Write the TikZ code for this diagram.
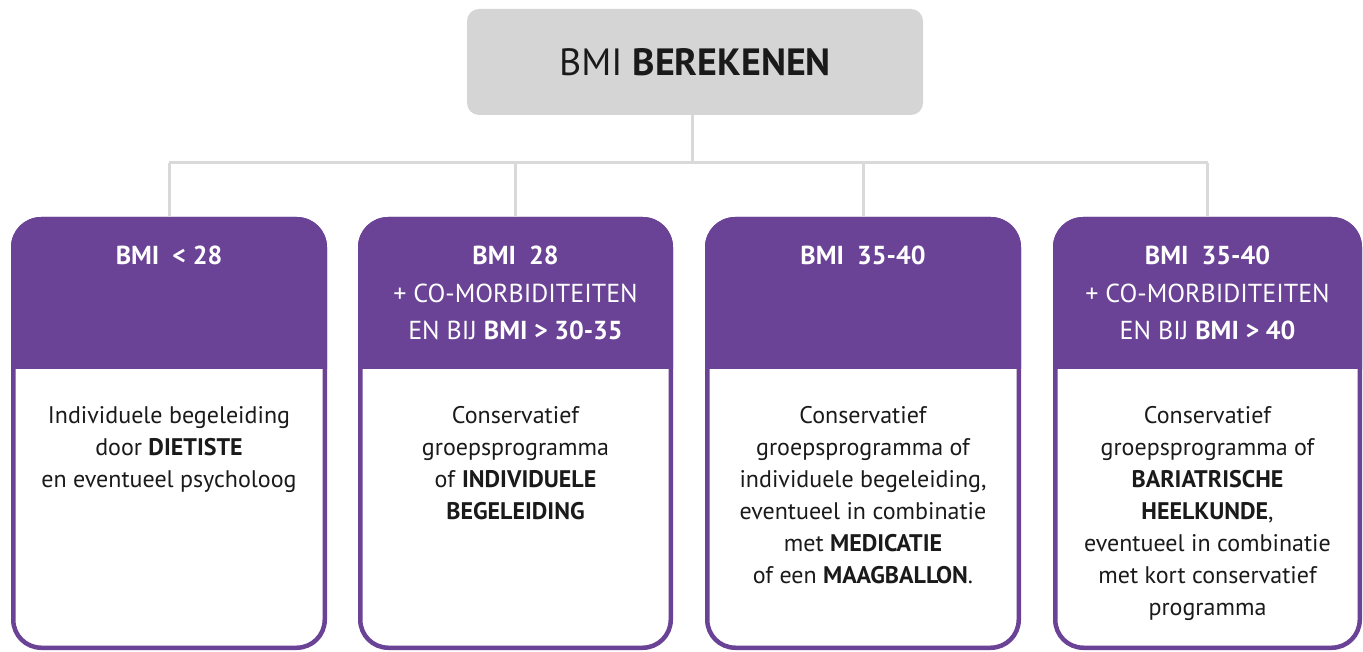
\documentclass[tikz,border=0pt]{standalone}
\usepackage{fontspec}
\setmainfont{PT Sans}
\definecolor{pur}{HTML}{6A4396}
\definecolor{boxgrey}{HTML}{D5D5D6}
\definecolor{linegrey}{HTML}{D9D9D9}
\definecolor{txt}{HTML}{1A1A1A}
\begin{document}
\begin{tikzpicture}[x=1pt,y=-1pt,
  conn/.style={draw=linegrey,line width=3pt},
  topbox/.style={fill=boxgrey,rounded corners=12pt,inner sep=0pt,text=txt},
  card/.style={draw=pur,fill=white,line width=4.5pt,rounded corners=28pt,inner sep=0pt,minimum height=428.5pt},
  headtxt/.style={text=white,align=center,font=\fontsize{26}{37.5}\selectfont,anchor=north,inner sep=0pt},
  bodytxt/.style={text=txt,align=center,font=\fontsize{24}{32}\selectfont,anchor=north,inner sep=0pt}]
\useasboundingbox (0,0) rectangle (1363,652);

% top box
\node[topbox,minimum width=456pt,minimum height=106pt] (top) at (695,62)
  {\fontsize{38}{38}\selectfont BMI \textbf{BEREKENEN}};

% cards
\node[card,minimum width=311.5pt] (b1) at (169,433.5) {};
\node[card,minimum width=310.5pt] (b2) at (515.5,433.5) {};
\node[card,minimum width=311.5pt] (b3) at (863,433.5) {};
\node[card,minimum width=304.5pt] (b4) at (1207.5,433.5) {};

% headers
\foreach \L/\R in {11/327,358/673,705/1021,1053/1362}{
  \begin{scope}
    \clip (\L-5,210) rectangle (\R+5,368);
    \fill[pur,rounded corners=30pt] (\L,217) rectangle (\R,650);
  \end{scope}
}

% connectors
\coordinate (bus) at (692,163);
\draw[conn] (top.south -| bus) -- (bus);
\draw[conn] (b1.north |- bus) -- (b4.north |- bus);
\draw[conn] (b1.north |- bus) -- (b1.north);
\draw[conn] (b2.north |- bus) -- (b2.north);
\draw[conn] (b3.north |- bus) -- (b3.north);
\draw[conn] (b4.north |- bus) -- (b4.north);

% header texts
\node[headtxt] (h1) at (169,246) {\textbf{BMI\ \ < 28}};
\node[headtxt] (h2) at (515.5,246) {\textbf{BMI\ \ 28}\\+ CO-MORBIDITEITEN\\EN BIJ \textbf{BMI > 30-35}};
\node[headtxt] (h3) at (863,246) {\textbf{BMI\ \ 35-40}};
\node[headtxt] (h4) at (1207.5,246) {\textbf{BMI\ \ 35-40}\\+ CO-MORBIDITEITEN\\EN BIJ \textbf{BMI > 40}};

% body texts
\node[bodytxt] (t1) at (169,406) {Individuele begeleiding\\door \textbf{DIETISTE}\\en eventueel psycholoog};
\node[bodytxt] (t2) at (515.5,406) {Conservatief\\groepsprogramma\\of \textbf{INDIVIDUELE}\\\textbf{BEGELEIDING}};
\node[bodytxt] (t3) at (863,406) {Conservatief\\groepsprogramma of\\individuele begeleiding,\\eventueel in combinatie\\met \textbf{MEDICATIE}\\of een \textbf{MAAGBALLON}.};
\node[bodytxt] (t4) at (1207.5,406) {Conservatief\\groepsprogramma of\\\textbf{BARIATRISCHE}\\\textbf{HEELKUNDE},\\eventueel in combinatie\\met kort conservatief\\programma};
\end{tikzpicture}
\end{document}
